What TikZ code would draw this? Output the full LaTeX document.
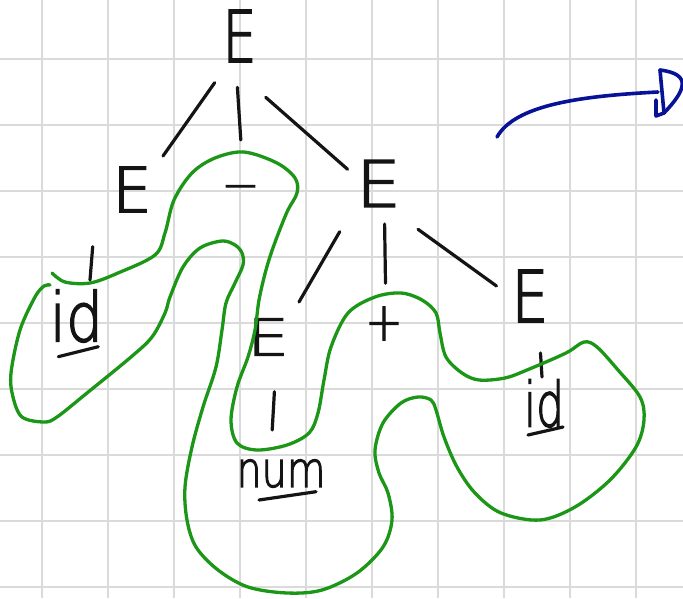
\documentclass[tikz,border=0pt]{standalone}
\usepackage{fontspec}
\newfontfamily\hand{DejaVu Sans ExtraLight}[FakeBold=2.5]
\usetikzlibrary{calc}
\definecolor{gridc}{RGB}{218,218,218}
\definecolor{pen}{RGB}{20,20,20}
\definecolor{greenpen}{RGB}{28,150,22}
\definecolor{bluepen}{RGB}{8,18,150}
\newcommand\hwtext[3]{\scalebox{#1}[1]{\fontsize{#2}{#2}\selectfont\hand #3}}
\begin{document}
\begin{tikzpicture}[x=1pt,y=-1pt,
  lbl/.style={inner sep=0pt, text=pen},
  edge/.style={draw=pen, line width=3.2pt, line cap=round},
  loopline/.style={draw=greenpen, line width=3.3pt, line cap=round, line join=round},
  arr/.style={draw=bluepen, line width=3.6pt, line cap=round, line join=round},
  gridline/.style={draw=gridc, line width=1.5pt}]
\useasboundingbox[fill=white] (0,0) rectangle (683,598);
\foreach \gx in {42,108,...,636} \draw[gridline] (\gx,0) -- (\gx,598);
\foreach \gy in {59,125,...,587} \draw[gridline] (0,\gy) -- (683,\gy);

% labels
\node[lbl] (E0) at (239.5,36) {\hwtext{0.76}{71}{E}};
\node[lbl] (E1) at (132,189.5) {\hwtext{1.0}{62}{E}};
\node[lbl] (M) at (240.5,193) {\hwtext{1.0}{46}{−}};
\node[lbl] (E2) at (378.5,183.5) {\hwtext{1.1}{64}{E}};
\node[lbl] (idL) at (76.5,316) {\hwtext{0.86}{68}{id}};
\node[lbl] (E3) at (268,337) {\hwtext{1.3}{51}{E}};
\node[lbl] (P) at (384,323.5) {\hwtext{0.85}{53}{+}};
\node[lbl] (E4) at (530,296) {\hwtext{0.82}{71}{E}};
\node[lbl] (idR) at (544,403.5) {\hwtext{0.71}{62}{id}};
\node[lbl] (num) at (281,473.5) {\hwtext{0.81}{49}{num}};

% underlines
\draw[edge] ($(idL)+(-18.2,40.7)$) -- ($(idL)+(21.8,30.7)$);
\draw[edge] ($(idR)+(-16,31.5)$) -- ($(idR)+(19,23.5)$);
\draw[edge] ($(num)+(-22,26.5)$) -- ($(num)+(35,18.2)$);

% tree edges
\draw[edge] ($(E0)+(-24.8,46.7)$) -- ($(E1)+(31,-33.5)$);
\draw[edge] ($(E0)+(-2.1,51.3)$) -- ($(M)+(0.3,-53)$);
\draw[edge] ($(E0)+(26.2,61.3)$) -- ($(E2)+(-30.9,-14.2)$);
\draw[edge] ($(E1)+(-39.3,57.2)$) -- ($(idL)+(13.5,-36)$);
\draw[edge] ($(E2)+(-38.8,48.2)$) -- ($(E3)+(31,-35)$);
\draw[edge] ($(E2)+(6.1,40.5)$) -- ($(P)+(1.5,-40.2)$);
\draw[edge] ($(E2)+(39.5,45.8)$) -- ($(E4)+(-33.5,-10)$);
\draw[edge] ($(E3)+(6.4,54.7)$) -- ($(num)+(-8.8,-43.5)$);
\draw[edge] ($(E4)+(10.5,57)$) -- ($(idR)+(-2,-26.5)$);

% green outline
\draw[loopline] plot[smooth, tension=0.55] coordinates {
(52,273) (65,282) (90,283) (118,273) (155,255) (165,233) (174,200) (192,173)
(215,158) (244,152) (277,163) (295,178) (297,193) (287,212) (274,245) (266,270)
(259,300) (255,330) (248,357) (237,387) (231,420) (237,443) (257,450) (287,445)
(309,433) (318,413) (324,380) (331,347) (348,313) (375,297) (401,293) (422,300)
(436,313) (440,333) (446,357) (462,373) (479,380) (505,378) (527,370) (566,353)
(584,342) (597,347) (618,370) (640,397) (644,420) (636,447) (610,480) (575,507)
(540,520) (501,513) (475,493) (457,467) (444,437) (436,410) (431,400) (418,397)
(401,403) (383,423) (375,450) (379,473) (388,493) (392,520) (383,547) (357,573)
(322,590) (287,593) (248,587) (218,570) (196,547) (187,520) (185,487) (192,447)
(203,407) (216,367) (222,330) (226,303) (235,283) (243,265) (242,253) (235,245)
(222,241) (200,248) (183,267) (170,297) (165,313) (152,337) (131,357) (87,393)
(57,417) (44,422) (22,417) (13,397) (11,373) (20,330) (35,297) (44,286) (50,285)};

% blue arrow
\coordinate (a1) at (497,137);
\coordinate (a2) at (658,92);
\coordinate (h1) at (660,70);
\coordinate (h2) at (664,113);
\coordinate (h3) at (656,116);
\draw[arr] (a1) .. controls (515,105) and (580,96) .. (a2);
\draw[arr] (h1) -- (h2);
\draw[arr] (h1) .. controls (692,74) and (686,90) .. (h2) -- (h3) -- (656,100);
\end{tikzpicture}
\end{document}
